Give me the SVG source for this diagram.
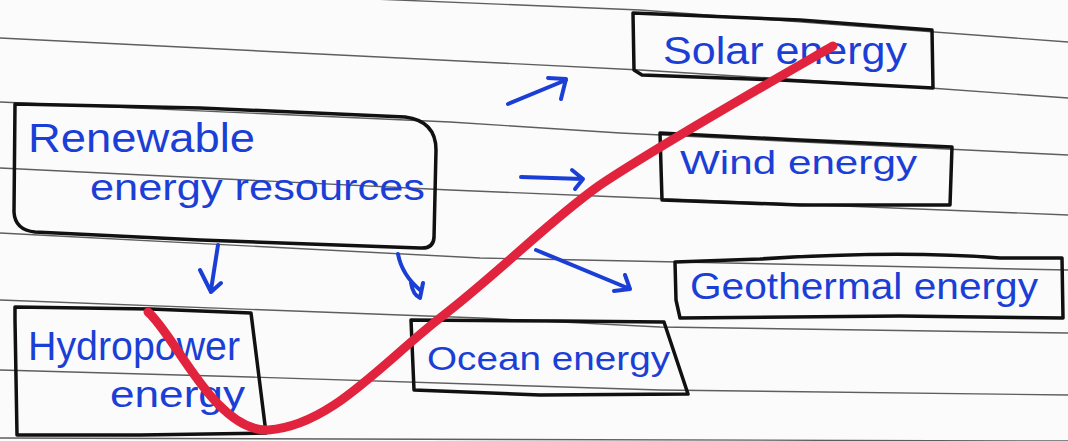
<svg xmlns="http://www.w3.org/2000/svg" width="1068" height="441" viewBox="0 0 1068 441">
<style>
.rule{fill:none;stroke:#5e5e5e;stroke-width:1.4}
.box{fill:none;stroke:#111;stroke-width:3.5;stroke-linejoin:round;stroke-linecap:round}
.lbl{font-family:"Liberation Sans","DejaVu Sans",sans-serif;fill:#1b3fd6}
.arr{fill:none;stroke:#1b3fd6;stroke-width:4;stroke-linecap:round;stroke-linejoin:round}
.tick{fill:none;stroke:#e1233d;stroke-width:9;stroke-linecap:round;stroke-linejoin:round}
</style>
<rect width="1068" height="441" fill="#fbfbfb"/>
<g id="paper">
<path class="rule" d="M300,-4 L640,10 L1068,42"/>
<path class="rule" d="M0,38 L640,70 L930,88 L1068,98"/>
<path class="rule" d="M0,102 L450,122 L620,133 L1068,155"/>
<path class="rule" d="M0,168 L450,190 L620,197 L1068,215"/>
<path class="rule" d="M0,233 L480,258 L1068,270"/>
<path class="rule" d="M0,300 L480,318 L660,327 L1068,333"/>
<path class="rule" d="M0,370 L250,377 L660,390 L1068,395"/>
<path class="rule" d="M0,438 L1068,441"/>
</g>
<g id="node-renewable">
<path class="box" d="M15,104 L200,108 L405,117 Q436,121 436,150 L434,238 Q433,249 420,248 L200,240 L35,232 Q15,230 14,212 Z"/>
<text class="lbl" x="28" y="152" font-size="40" textLength="227" lengthAdjust="spacingAndGlyphs">Renewable</text>
<text class="lbl" x="90" y="200" font-size="36" textLength="335" lengthAdjust="spacingAndGlyphs">energy resources</text>
</g>
<g id="node-solar">
<path class="box" d="M633,13 L800,20 L932,30 L933,88 L780,80 L642,75 L634,70 Z"/>
<text class="lbl" x="663" y="64" font-size="38" textLength="244" lengthAdjust="spacingAndGlyphs">Solar energy</text>
</g>
<g id="node-wind">
<path class="box" d="M660,133 L800,140 L952,147 L950,205 L800,205 L662,200 Z"/>
<text class="lbl" x="680" y="174" font-size="34" textLength="237" lengthAdjust="spacingAndGlyphs">Wind energy</text>
</g>
<g id="node-geothermal">
<path class="box" d="M675,262 L760,259 Q900,250 1000,258 L1062,258 L1063,318 L900,316 L680,318 L676,300 Z"/>
<text class="lbl" x="690" y="299" font-size="36" textLength="348" lengthAdjust="spacingAndGlyphs">Geothermal energy</text>
</g>
<g id="node-hydropower">
<path class="box" d="M15,307 L150,309 L251,313 L266,433 L140,435 L17,435 L15,320 Z"/>
<text class="lbl" x="28" y="360" font-size="40" textLength="212" lengthAdjust="spacingAndGlyphs">Hydropower</text>
<text class="lbl" x="110" y="407" font-size="36" textLength="135" lengthAdjust="spacingAndGlyphs">energy</text>
</g>
<g id="node-ocean">
<path class="box" d="M411,320 L560,321 L664,322 L688,394 L540,395 L414,390 Z"/>
<text class="lbl" x="427" y="370" font-size="34" textLength="243" lengthAdjust="spacingAndGlyphs">Ocean energy</text>
</g>
<g id="connectors">
<path class="arr" d="M508,104 L566,80 M548,78 L566,79 L561,99"/>
<path class="arr" d="M521,177 L583,179 M572,170 L583,179 L575,189"/>
<path class="arr" d="M536,250 L630,289 M614,291 L630,289 L625,275"/>
<path class="arr" d="M218,245 L211,290 M200,270 L211,292 L221,283"/>
<path class="arr" d="M398,254 Q402,275 420,290 M411,283 Q413,295 420,298 L423,283"/>
</g>
<g id="check-mark">
<path class="tick" d="M148,312 C175,335 215,432 268,430 C330,426 380,365 440,318 C500,272 550,220 600,185 C660,145 760,88 833,46"/>
</g>
</svg>
